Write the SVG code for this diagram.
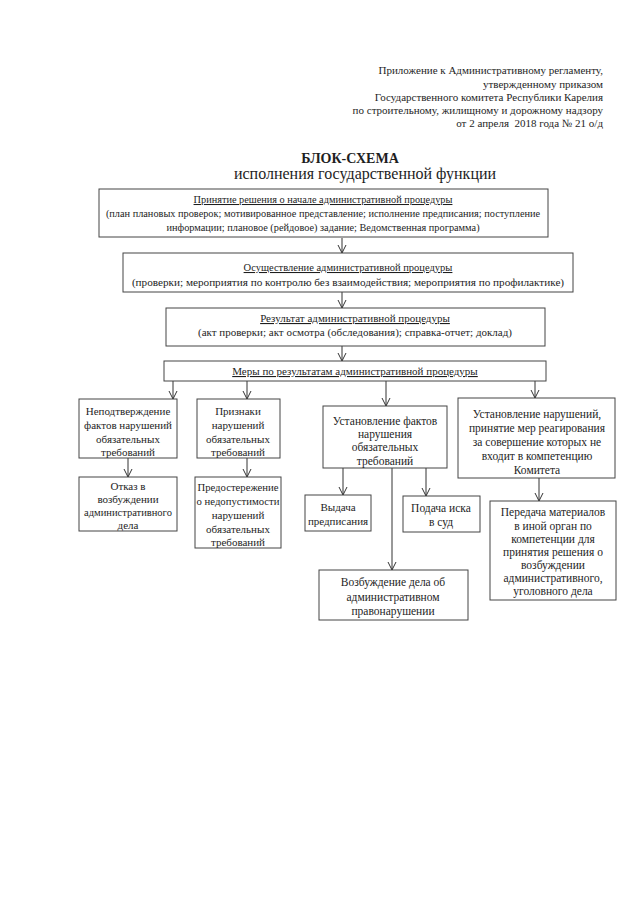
<svg xmlns="http://www.w3.org/2000/svg" width="639" height="905" viewBox="0 0 639 905">
<style>
text{font-family:"Liberation Serif","Times New Roman",serif;fill:#1e1e1e}
.hd{font-size:11px;text-anchor:end}
.t1{font-size:14px;font-weight:bold;text-anchor:middle}
.t2{font-size:16px;text-anchor:middle}
.m{font-size:11px;text-anchor:middle}
.m1{font-size:10.3px;text-anchor:middle}
.s{font-size:11.5px;text-anchor:middle}
.n{font-size:11px;text-anchor:middle}
.u{text-decoration:underline}
.box{fill:#fff;stroke:#444;stroke-width:1}
.ln{fill:none;stroke:#333;stroke-width:1}
</style>
<defs>
<marker id="ar" viewBox="-9 -5 10 10" refX="0" refY="0" markerWidth="10" markerHeight="10" markerUnits="userSpaceOnUse" orient="auto">
<path d="M-8,-4 L0,0 L-8,4" fill="none" stroke="#333" stroke-width="1"/>
</marker>
</defs>
<rect width="639" height="905" fill="#fff"/>
<g id="header">
<text class="hd" x="603" y="74">Приложение к Административному регламенту,</text>
<text class="hd" x="603" y="88">утвержденному приказом</text>
<text class="hd" x="603" y="101">Государственного комитета Республики Карелия</text>
<text class="hd" x="603" y="114">по строительному, жилищному и дорожному надзору</text>
<text class="hd" x="603" y="127">от 2 апреля&#160; 2018 года № 21 о/д</text>
</g>
<g id="title">
<text class="t1" x="350" y="163">БЛОК-СХЕМА</text>
<text class="t2" x="365" y="179">исполнения государственной функции</text>
</g>
<g id="connectors">
<line class="ln" x1="342" y1="238" x2="342" y2="253" marker-end="url(#ar)"/>
<line class="ln" x1="342" y1="292" x2="342" y2="308" marker-end="url(#ar)"/>
<line class="ln" x1="342" y1="346" x2="342" y2="361" marker-end="url(#ar)"/>
<line class="ln" x1="173" y1="381" x2="173" y2="399" marker-end="url(#ar)"/>
<line class="ln" x1="247" y1="381" x2="247" y2="399" marker-end="url(#ar)"/>
<line class="ln" x1="386" y1="381" x2="386" y2="406" marker-end="url(#ar)"/>
<line class="ln" x1="535" y1="381" x2="535" y2="398" marker-end="url(#ar)"/>
<line class="ln" x1="128" y1="458" x2="128" y2="477" marker-end="url(#ar)"/>
<line class="ln" x1="247" y1="458" x2="247" y2="477" marker-end="url(#ar)"/>
<line class="ln" x1="343" y1="468" x2="343" y2="495" marker-end="url(#ar)"/>
<line class="ln" x1="426" y1="468" x2="426" y2="496" marker-end="url(#ar)"/>
<line class="ln" x1="392" y1="468" x2="392" y2="570" marker-end="url(#ar)"/>
<line class="ln" x1="539" y1="478" x2="539" y2="501" marker-end="url(#ar)"/>
</g>
<g id="n1">
<rect class="box" x="99" y="189" width="449" height="48"/>
<text class="m1 u" x="323" y="203">Принятие решения о начале административной процедуры</text>
<text class="m1" x="323" y="217">(план плановых проверок; мотивированное представление; исполнение предписания; поступление</text>
<text class="m1" x="323" y="231">информации; плановое (рейдовое) задание; Ведомственная программа)</text>
</g>
<g id="n2">
<rect class="box" x="123" y="253" width="450" height="39"/>
<text class="m u" x="348" y="271" style="font-size:10.5px">Осуществление административной процедуры</text>
<text class="m" x="348" y="286" style="font-size:11.2px">(проверки; мероприятия по контролю без взаимодействия; мероприятия по профилактике)</text>
</g>
<g id="n3">
<rect class="box" x="166" y="308" width="379" height="38"/>
<text class="m u" x="355" y="322">Результат административной процедуры</text>
<text class="m" x="355" y="336">(акт проверки; акт осмотра (обследования); справка-отчет; доклад)</text>
</g>
<g id="n4">
<rect class="box" x="164" y="361" width="382" height="20"/>
<text class="m u" x="355" y="375">Меры по результатам административной процедуры</text>
</g>
<g id="n5">
<rect class="box" x="79" y="399" width="98" height="59"/>
<text class="n" x="128" y="415">Неподтверждение</text>
<text class="n" x="128" y="429">фактов нарушений</text>
<text class="n" x="128" y="443">обязательных</text>
<text class="n" x="128" y="456">требований</text>
</g>
<g id="n6">
<rect class="box" x="197" y="399" width="83" height="59"/>
<text class="n" x="238" y="415">Признаки</text>
<text class="n" x="238" y="429">нарушений</text>
<text class="n" x="238" y="443">обязательных</text>
<text class="n" x="238" y="456">требований</text>
</g>
<g id="n7">
<rect class="box" x="323" y="406" width="124" height="62"/>
<text class="s" x="385" y="425">Установление фактов</text>
<text class="s" x="385" y="438">нарушения</text>
<text class="s" x="385" y="451">обязательных</text>
<text class="s" x="385" y="465">требований</text>
</g>
<g id="n8">
<rect class="box" x="458" y="398" width="157" height="80"/>
<text class="s" x="537" y="418">Установление нарушений,</text>
<text class="s" x="537" y="432">принятие мер реагирования</text>
<text class="s" x="537" y="446">за совершение которых не</text>
<text class="s" x="537" y="460">входит в компетенцию</text>
<text class="s" x="537" y="474">Комитета</text>
</g>
<g id="n9">
<rect class="box" x="79" y="477" width="98" height="54"/>
<text class="n" x="128" y="490">Отказ в</text>
<text class="n" x="128" y="503">возбуждении</text>
<text class="n" x="128" y="516" style="font-size:10.5px">административного</text>
<text class="n" x="128" y="529">дела</text>
</g>
<g id="n10">
<rect class="box" x="195" y="477" width="86" height="71"/>
<text class="n" x="238" y="491" style="font-size:10.7px">Предостережение</text>
<text class="n" x="238" y="505" style="font-size:10.7px">о недопустимости</text>
<text class="n" x="238" y="519">нарушений</text>
<text class="n" x="238" y="533">обязательных</text>
<text class="n" x="238" y="546">требований</text>
</g>
<g id="n11">
<rect class="box" x="305" y="495" width="66" height="36"/>
<text class="n" x="338" y="511">Выдача</text>
<text class="n" x="338" y="525">предписания</text>
</g>
<g id="n12">
<rect class="box" x="403" y="496" width="77" height="36"/>
<text class="s" x="441" y="512">Подача иска</text>
<text class="s" x="441" y="526">в суд</text>
</g>
<g id="n13">
<rect class="box" x="319" y="570" width="149" height="50"/>
<text class="s" x="393" y="586">Возбуждение дела об</text>
<text class="s" x="393" y="601">административном</text>
<text class="s" x="393" y="615">правонарушении</text>
</g>
<g id="n14">
<rect class="box" x="490" y="501" width="126" height="99"/>
<text class="s" x="553" y="516">Передача материалов</text>
<text class="s" x="553" y="530">в иной орган по</text>
<text class="s" x="553" y="543">компетенции для</text>
<text class="s" x="553" y="556">принятия решения о</text>
<text class="s" x="553" y="569">возбуждении</text>
<text class="s" x="553" y="582">административного,</text>
<text class="s" x="553" y="595">уголовного дела</text>
</g>
</svg>
